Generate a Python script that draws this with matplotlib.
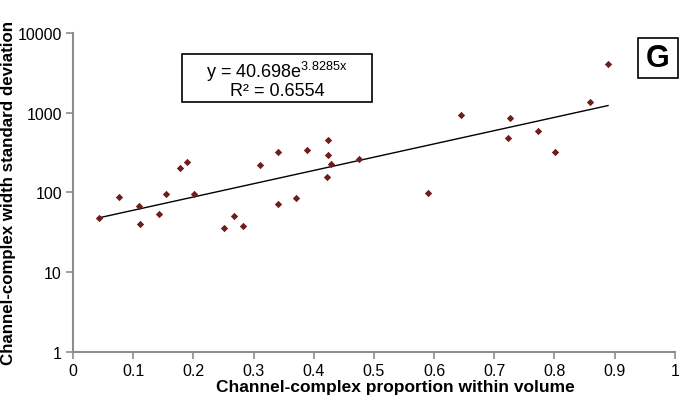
import numpy as np
import matplotlib
matplotlib.use("Agg")
import matplotlib.pyplot as plt
from matplotlib.patches import Rectangle
from matplotlib.ticker import FixedLocator, FixedFormatter, NullLocator

plt.rcParams['font.family'] = ['Liberation Sans', 'DejaVu Sans']
plt.rcParams['mathtext.fontset'] = 'custom'
plt.rcParams['mathtext.rm'] = 'Liberation Sans'
plt.rcParams['mathtext.it'] = 'Liberation Sans:italic'
plt.rcParams['mathtext.bf'] = 'Liberation Sans:bold'

# channel-complex proportion vs width std dev
proportion = [0.043, 0.076, 0.110, 0.111, 0.143, 0.154, 0.178, 0.189, 0.201,
              0.251, 0.267, 0.282, 0.311, 0.341, 0.341, 0.370, 0.389, 0.422,
              0.424, 0.424, 0.429, 0.475, 0.590, 0.645, 0.723, 0.726, 0.772,
              0.801, 0.859, 0.889]
width_sd = [48, 88, 68, 40, 54, 96, 203, 241, 96,
            36, 51, 38, 221, 322, 72, 86, 340, 156,
            455, 295, 228, 263, 99, 937, 482, 860, 590,
            322, 1364, 4080]

# exponential fit reported on the chart
fit_a = 40.698
fit_b = 3.8285
fit_r2 = 0.6554

x_ticks = [0, 0.1, 0.2, 0.3, 0.4, 0.5, 0.6, 0.7, 0.8, 0.9, 1]
x_labels = ['0', '0.1', '0.2', '0.3', '0.4', '0.5', '0.6', '0.7', '0.8', '0.9', '1']
y_ticks = [1, 10, 100, 1000, 10000]
y_labels = ['1', '10', '100', '1000', '10000']

fig = plt.figure(figsize=(6.83, 4.02), dpi=100)
ax = fig.add_axes([0.107, 0.122, 0.881, 0.794])

ax.scatter(proportion, width_sd, marker='D', s=14, color='#6e1c1c', zorder=3, linewidths=0)

xf = np.linspace(min(proportion), max(proportion), 100)
ax.plot(xf, fit_a * np.exp(fit_b * xf), color='black', lw=1.0, zorder=2)

ax.set_yscale('log')
ax.set_xlim(0, 1)
ax.set_ylim(1, 10000)
ax.xaxis.set_major_locator(FixedLocator(x_ticks))
ax.xaxis.set_major_formatter(FixedFormatter(x_labels))
ax.yaxis.set_major_locator(FixedLocator(y_ticks))
ax.yaxis.set_major_formatter(FixedFormatter(y_labels))
ax.yaxis.set_minor_locator(NullLocator())

for side in ['top', 'right']:
    ax.spines[side].set_visible(False)
for side in ['left', 'bottom']:
    ax.spines[side].set_color('#8c8c8c')
    ax.spines[side].set_linewidth(1.5)
ax.tick_params(axis='both', direction='out', length=5, width=1.2, color='#8c8c8c',
               labelsize=11.5, labelcolor='black', pad=3)

ax.set_xlabel('Channel-complex proportion within volume', fontsize=12.5,
              fontweight='bold')
ax.xaxis.set_label_coords(0.535, -0.085)
ax.set_ylabel('Channel-complex width standard deviation', fontsize=12.2,
              fontweight='bold', labelpad=1)

# equation box
fig.patches.append(Rectangle((0.2665, 0.7438), 0.278, 0.1194, transform=fig.transFigure,
                             facecolor='white', edgecolor='black', lw=1.2, zorder=5))
eq = 'y = 40.698e$^{\\mathrm{3.8285x}}$\nR\u00b2 = ' + f'{fit_r2:.4f}'
fig.text(0.4056, 0.801, eq, fontsize=13, ha='center', va='center', linespacing=0.95, zorder=6)

# panel letter
fig.patches.append(Rectangle((0.934, 0.8035), 0.0586, 0.0995, transform=fig.transFigure,
                             facecolor='white', edgecolor='black', lw=1.2, zorder=5))
fig.text(0.9634, 0.853, 'G', fontsize=22, fontweight='bold', ha='center', va='center', zorder=6)

fig.savefig('out.png', dpi=100)
